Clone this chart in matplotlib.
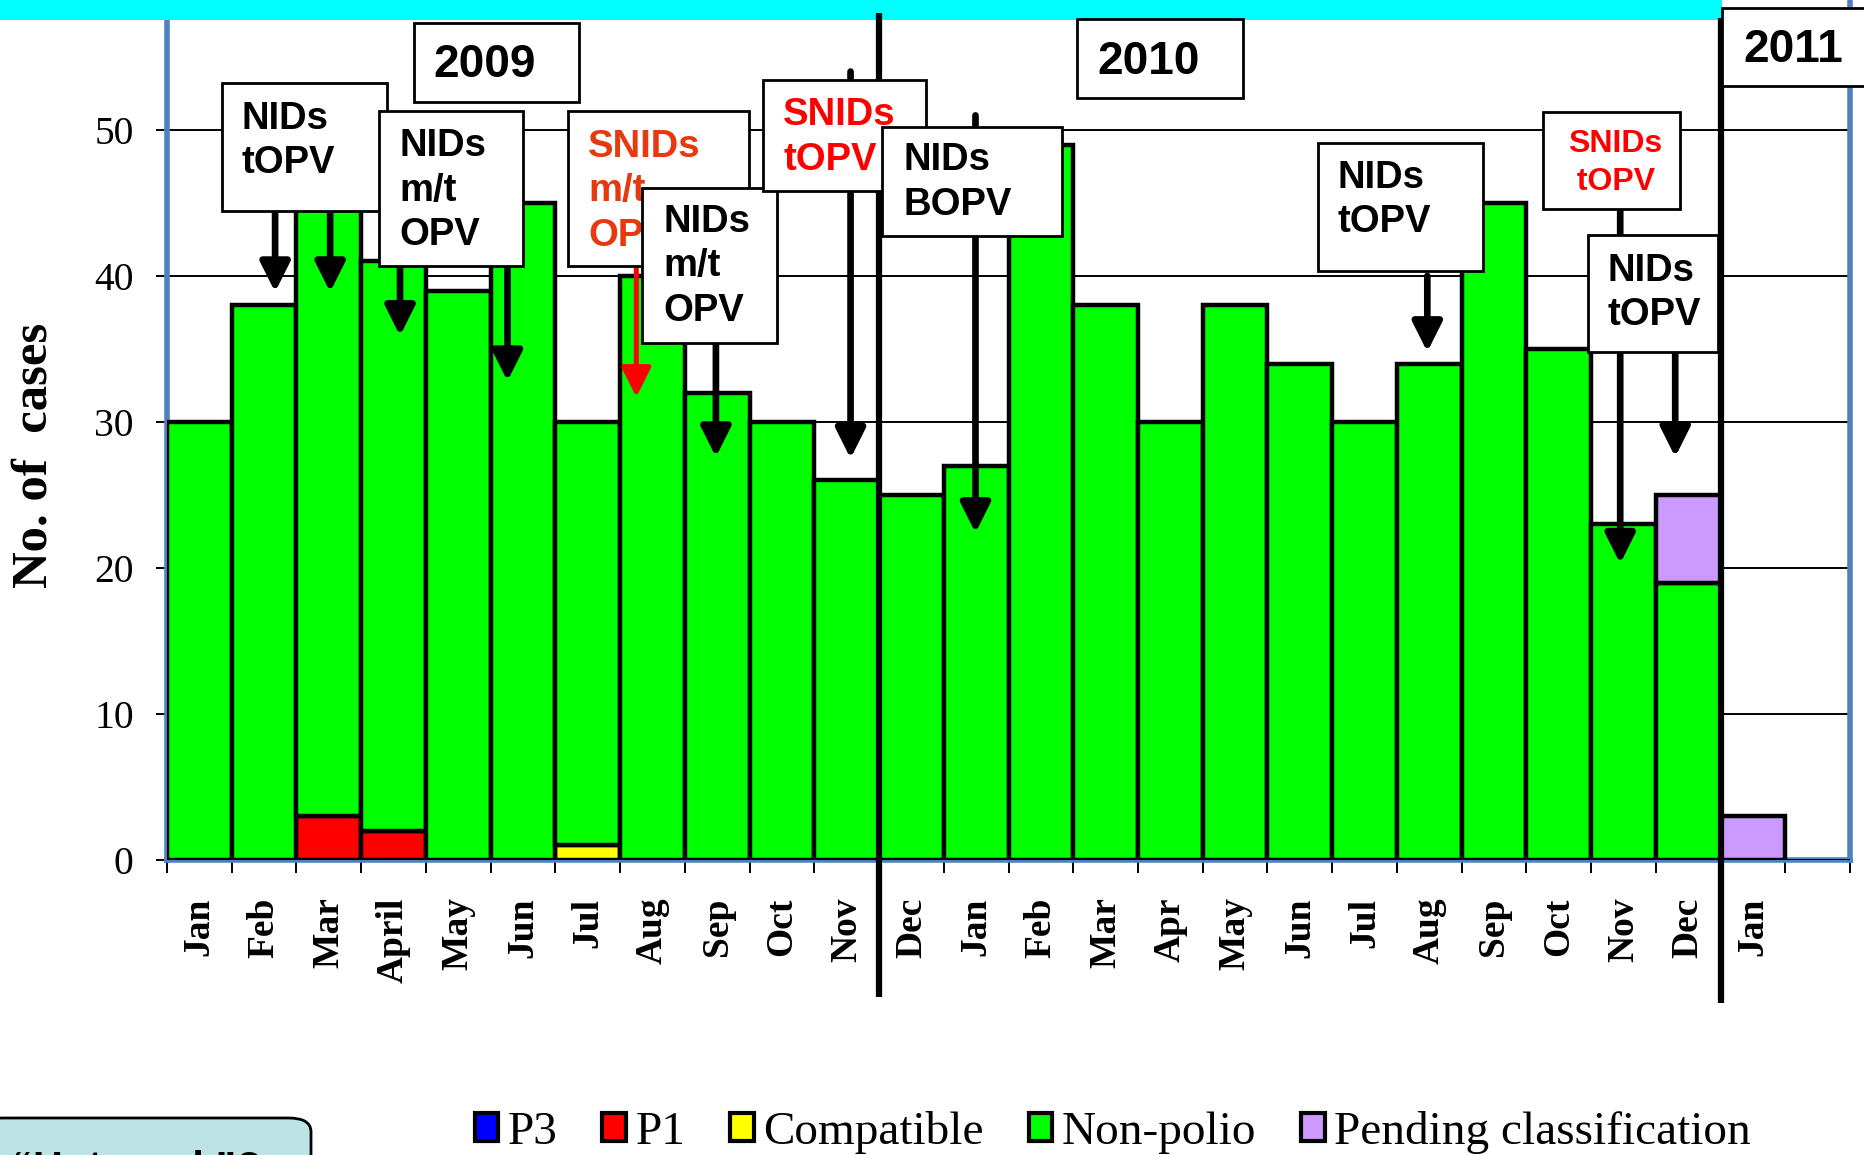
import numpy as np
import matplotlib
matplotlib.use("Agg")
import matplotlib.pyplot as plt
from matplotlib.patches import Rectangle, Patch, FancyBboxPatch

W, H = 1864, 1155

# data
months = ["Jan", "Feb", "Mar", "April", "May", "Jun", "Jul", "Aug", "Sep", "Oct", "Nov",
          "Dec", "Jan", "Feb", "Mar", "Apr", "May", "Jun", "Jul", "Aug", "Sep", "Oct", "Nov", "Dec",
          "Jan"]
p3 = [0] * 25
p1 = [0, 0, 3, 2, 0, 0, 0, 0, 0, 0, 0,
      0, 0, 0, 0, 0, 0, 0, 0, 0, 0, 0, 0, 0,
      0]
compatible = [0, 0, 0, 0, 0, 0, 1, 0, 0, 0, 0,
              0, 0, 0, 0, 0, 0, 0, 0, 0, 0, 0, 0, 0,
              0]
non_polio = [30, 38, 44, 39, 39, 45, 29, 40, 32, 30, 26,
             25, 27, 49, 38, 30, 38, 34, 30, 34, 45, 35, 23, 19,
             0]
pending = [0, 0, 0, 0, 0, 0, 0, 0, 0, 0, 0,
           0, 0, 0, 0, 0, 0, 0, 0, 0, 0, 0, 0, 6,
           3]

series = [("P3", p3, "#0000FF"), ("P1", p1, "#FF0000"), ("Compatible", compatible, "#FFFF00"),
          ("Non-polio", non_polio, "#00FF00"), ("Pending classification", pending, "#CC99FF")]

# year separators (between slots)
year_breaks = [10.5, 23.5]

# campaign boxes: text, colour, box in pixels (x0, y0, x1, y1), text left, first line centre, line gap, size
campaigns = [
    ("NIDs\ntOPV", "black", (222, 83, 387, 211), 242, 119, 44, 27.5),
    ("NIDs\nm/t\nOPV", "black", (379, 111, 523, 266), 399, 146, 44.5, 27.5),
    ("SNIDs\nm/t\nOPV", "#E8380D", (568, 111, 749, 266), 588, 147, 44.5, 27.5),
    ("NIDs\nm/t\nOPV", "black", (642, 188, 777, 343), 663, 222, 44.5, 27.5),
    ("SNIDs\ntOPV", "#FF0000", (763, 80, 926, 191), 783, 115, 45, 27.5),
    ("NIDs\nBOPV", "black", (882, 127, 1062, 236), 903, 160, 45, 27.5),
    ("NIDs\ntOPV", "black", (1318, 143, 1483, 271), 1338, 178, 44, 27.5),
    ("SNIDs\n tOPV", "#FF0000", (1543, 112, 1680, 209), 1568, 144, 38, 23),
    ("NIDs\ntOPV", "black", (1588, 235, 1718, 352), 1607, 271, 44, 27.5),
]
years = [("2009", (414, 23, 579, 102), 433, 65), ("2010", (1077, 19, 1243, 98), 1097, 62),
         ("2011", (1722, 8, 1875, 86), 1743, 50)]

# arrows: x (slot), tail value, tip value, colour
arrows = [(1.17, 45, 38.9, "black"), (2.02, 45, 38.9, "black"), (3.10, 41, 35.9, "black"),
          (4.76, 41, 32.8, "black"), (6.75, 40.5, 31.7, "#FF0000"), (7.98, 35.5, 27.6, "black"),
          (10.06, 54.0, 27.5, "black"), (11.99, 51.0, 22.4, "black"), (18.97, 40, 34.8, "black"),
          (21.95, 44.5, 20.3, "black"), (22.80, 35, 27.6, "black")]


def fx(x):
    return x / W


def fy(y):
    return 1 - y / H


fig = plt.figure(figsize=(W / 100, H / 100), dpi=100)
ax = fig.add_axes([fx(167), fy(860), (1850 - 167) / W, 60 * 14.6 / H])

x = np.arange(len(months))
bottom = np.zeros(len(months))
for name, vals, col in series:
    vals = np.array(vals, dtype=float)
    m = vals > 0
    if m.any():
        ax.bar(x[m], vals[m], width=1.0, bottom=bottom[m], color=col,
               edgecolor="black", linewidth=3.2, zorder=3)
    bottom += vals

ax.set_xlim(-0.5, 25.5)
ax.set_ylim(0, 60)
ax.set_yticks(np.arange(0, 51, 10))
ax.yaxis.grid(True, color="black", linewidth=1.4)
ax.set_axisbelow(True)
ax.axhline(0, color="black", linewidth=1.4, zorder=3.5)

ax.set_xticks(np.arange(-0.5, 26, 1))
ax.set_xticklabels([])
ax.set_xticks(x, minor=True)
ax.set_xticklabels(months, minor=True, rotation=90, fontsize=27, fontweight="bold",
                   family="Liberation Serif")
ax.tick_params(axis="x", which="major", length=9, width=1.4, direction="out", color="black")
ax.tick_params(axis="x", which="minor", length=0, pad=27)
ax.tick_params(axis="y", length=8, width=1.4, pad=16, labelsize=28.5, color="black")
for lab in ax.get_yticklabels():
    lab.set_family("Liberation Serif")

for s in ax.spines.values():
    s.set_color("#4F81BD")
    s.set_linewidth(4)

fig.text(fx(35), fy(455), "No. of  cases", rotation=90, ha="center", va="center",
         fontsize=36.5, fontweight="bold", family="Liberation Serif")

# year separator lines
for xb, top, bot in zip(year_breaks, [58.0, 57.7], [-9.4, -9.8]):
    ax.plot([xb, xb], [bot, top], color="black", linewidth=4.5, clip_on=False,
            solid_capstyle="butt", zorder=4)

# cyan band at the top of the slide
ax.add_patch(Rectangle((0, fy(19.5)), fx(1722), 1 - fy(19.5), transform=fig.transFigure,
                       facecolor="#00FFFF", edgecolor="none", clip_on=False, zorder=3.8))

# arrows
for xa, tail, tip, col in arrows:
    lw = 3.6 if col != "black" else 4.8
    ax.annotate("", xy=(xa, tip), xytext=(xa, tail),
                arrowprops=dict(arrowstyle="-|>,head_length=1.8,head_width=0.9",
                                mutation_scale=10, color=col, lw=lw,
                                shrinkA=0, shrinkB=0),
                annotation_clip=False, zorder=5)

z = 6
for txt, col, (x0, y0, x1, y1), tx, ty, gap, size in campaigns:
    ax.add_patch(Rectangle((fx(x0), fy(y1)), fx(x1 - x0), (y1 - y0) / H,
                           transform=fig.transFigure, facecolor="white", edgecolor="black",
                           linewidth=2, clip_on=False, zorder=z))
    for i, line in enumerate(txt.split("\n")):
        ax.text(fx(tx), fy(ty + i * gap), line, transform=fig.transFigure, ha="left",
                va="center", fontsize=size, fontweight="bold", color=col,
                family="Liberation Sans", zorder=z + 0.1, clip_on=False)
    z += 0.2

for txt, (x0, y0, x1, y1), tx, ty in years:
    ax.add_patch(Rectangle((fx(x0), fy(y1)), fx(x1 - x0), (y1 - y0) / H,
                           transform=fig.transFigure, facecolor="white", edgecolor="black",
                           linewidth=2, clip_on=False, zorder=z))
    ax.text(fx(tx), fy(ty), txt, transform=fig.transFigure, ha="left", va="center",
            fontsize=33, fontweight="bold", family="Liberation Sans", zorder=z + 0.1)
    z += 0.2

# bottom-left note box, mostly cut off by the slide edge
fig.patches.append(FancyBboxPatch((fx(-20), fy(1200)), fx(331), (1200 - 1118) / H,
                                  boxstyle="round,pad=0,rounding_size=0.012",
                                  transform=fig.transFigure, facecolor="#BDE3E5",
                                  edgecolor="black", linewidth=2))
fig.text(fx(12), fy(1150), "\u201cHot week\u201d?", ha="left", va="top", fontsize=30,
         fontweight="bold", family="Liberation Sans")

handles = [Patch(facecolor=col, edgecolor="black", linewidth=3) for _, _, col in series]
fig.legend(handles, [n for n, _, _ in series], loc="center", bbox_to_anchor=(0.597, fy(1132)),
           ncol=5, frameon=False, prop={"family": "Liberation Serif", "size": 34},
           handlelength=0.5, handleheight=0.55, handletextpad=0.2, columnspacing=0.95,
           borderaxespad=0, borderpad=0)

fig.savefig("out.png", dpi=100)
